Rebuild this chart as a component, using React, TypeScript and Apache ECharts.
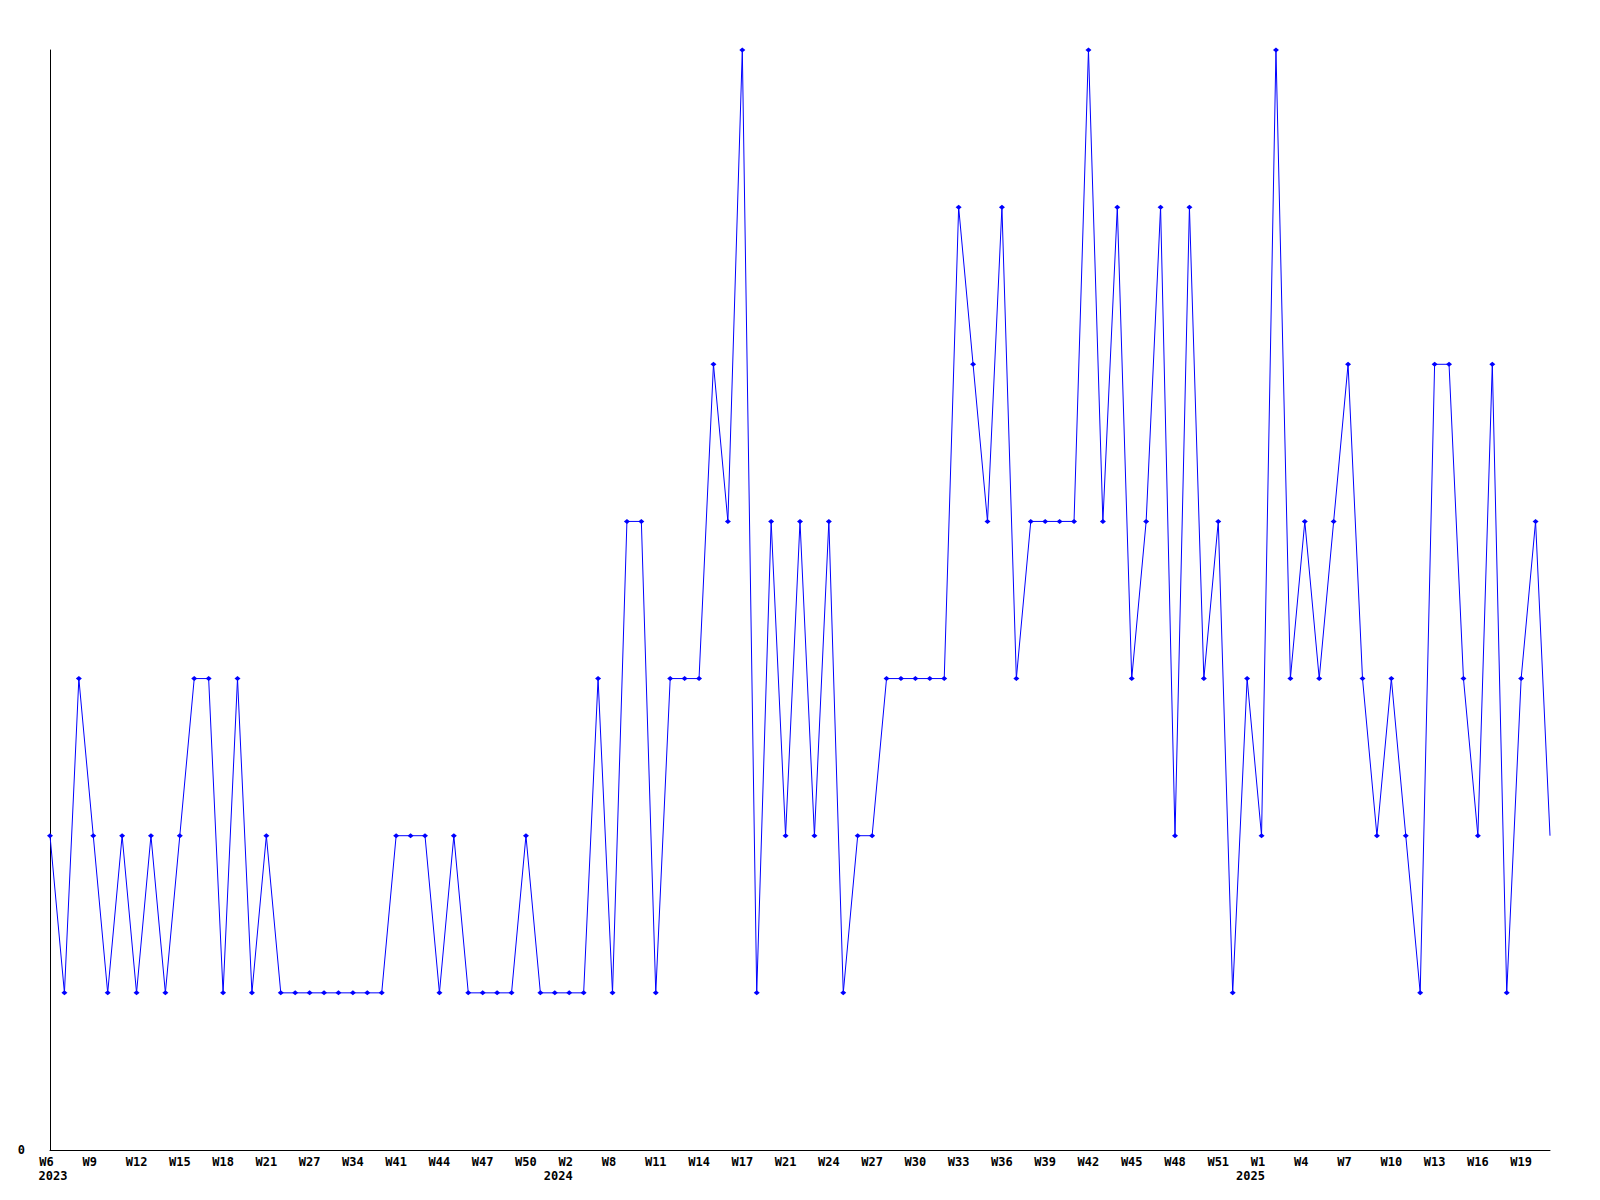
import React, { useEffect, useRef } from "react";
import * as echarts from "echarts";

// Week numbers per year, in plotting order
const weeks2023 = [6, 7, 8, 9, 10, 11, 12, 13, 14, 15, 16, 17, 18, 19, 20, 21, 22, 24, 27, 29, 31, 34, 36, 38, 41, 42, 43, 44, 45, 46, 47, 48, 49, 50, 51, 52];
const weeks2024 = [2, 4, 6, 8, 9, 10, 11, 12, 13, 14, 15, 16, 17, 18, 20, 21, 22, 23, 24, 25, 26, 27, 28, 29, 30, 31, 32, 33, 34, 35, 36, 37, 38, 39, 40, 41, 42, 43, 44, 45, 46, 47, 48, 49, 50, 51, 52, 53];
const weeks2025 = [1, 2, 3, 4, 5, 6, 7, 8, 9, 10, 11, 12, 13, 14, 15, 16, 17, 18, 19, 20, 21];

const values = [
  2, 1, 3, 2, 1, 2, 1, 2, 1, 2,
  3, 3, 1, 3, 1, 2, 1, 1, 1, 1,
  1, 1, 1, 1, 2, 2, 2, 1, 2, 1,
  1, 1, 1, 2, 1, 1, 1, 1, 3, 1,
  4, 4, 1, 3, 3, 3, 5, 4, 7, 1,
  4, 2, 4, 2, 4, 1, 2, 2, 3, 3,
  3, 3, 3, 6, 5, 4, 6, 3, 4, 4,
  4, 4, 7, 4, 6, 3, 4, 6, 2, 6,
  3, 4, 1, 3, 2, 7, 3, 4, 3, 4,
  5, 3, 2, 3, 2, 1, 5, 5, 3, 2,
  5, 1, 3, 4, 2,
];

const yMin = 0;
const yMax = 7;

const categories = [
  ...weeks2023.map((w) => `2023-W${w}`),
  ...weeks2024.map((w) => `2024-W${w}`),
  ...weeks2025.map((w) => `2025-W${w}`),
];

const FONT = "'DejaVu Sans Mono', monospace";

export default function App() {
  const ref = useRef<HTMLDivElement>(null);

  useEffect(() => {
    if (!ref.current) return;
    const chart = echarts.init(ref.current, null, { renderer: "svg" });
    const baseText = {
      fontFamily: FONT,
      fontWeight: "bold" as const,
      fontSize: 12,
      lineHeight: 14,
      color: "#000",
    };
    const data = values.map((v, i) =>
      i === values.length - 1 ? { value: v, symbol: "none" } : v
    );
    chart.setOption({
      animation: false,
      backgroundColor: "#fff",
      grid: { left: 50, right: 50, top: 50, bottom: 50, containLabel: false },
      xAxis: {
        type: "category",
        data: categories,
        boundaryGap: false,
        axisLine: { show: true, lineStyle: { color: "#000", width: 1 } },
        axisTick: { show: false },
        splitLine: { show: false },
        axisLabel: {
          interval: 2,
          margin: 5,
          verticalAlign: "top",
          formatter: (value: string, index: number) => {
            const [year, week] = value.split("-");
            const prev = index >= 3 ? categories[index - 3].split("-")[0] : null;
            const wTag = week.length <= 2 ? "w2" : "w3";
            let s = `{${wTag}|${week}}`;
            if (prev !== year) {
              s += `\n{${index === 0 ? "yf" : "y"}|${year}}`;
            }
            return s;
          },
          rich: {
            w3: { ...baseText },
            w2: { ...baseText, padding: [0, 7, 0, 0] },
            y: { ...baseText, padding: [0, 22, 0, 0] },
            yf: { ...baseText, padding: [0, 0, 0, 6] },
          },
        },
      },
      yAxis: {
        type: "value",
        min: yMin,
        max: yMax,
        interval: 7,
        axisLine: { show: true, lineStyle: { color: "#000", width: 1 } },
        axisTick: { show: false },
        splitLine: { show: false },
        axisLabel: {
          margin: 25,
          fontFamily: FONT,
          fontWeight: "bold",
          fontSize: 12,
          color: "#000",
          formatter: (v: number) => (v === yMin ? String(v) : ""),
        },
      },
      series: [
        {
          type: "line",
          data,
          showAllSymbol: true,
          symbol: "diamond",
          symbolSize: [6, 5],
          lineStyle: { color: "#0000ff", width: 1 },
          itemStyle: { color: "#0000ff" },
          clip: false,
        },
      ],
    });
    return () => chart.dispose();
  }, []);

  return (
    <div
      ref={ref}
      style={{ position: "absolute", left: 0, top: 0, width: 1600, height: 1200, background: "#fff" }}
    />
  );
}
